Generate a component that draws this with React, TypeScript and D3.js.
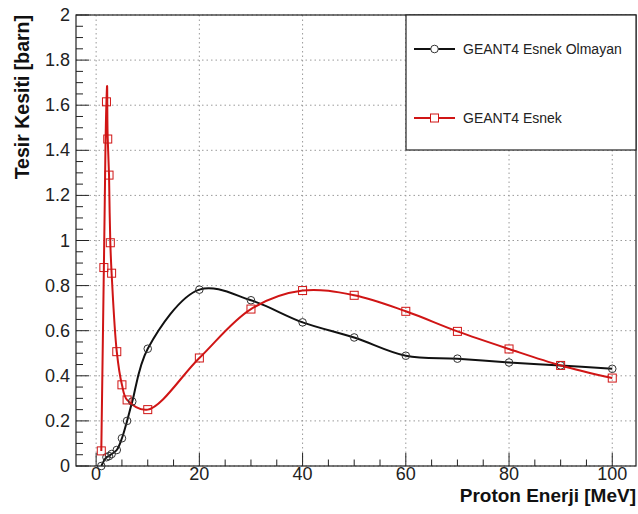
import React from "react";
import * as d3 from "d3";

const energyBlack = [1, 2, 2.5, 3, 4, 5, 6, 7, 10, 20, 30, 40, 50, 60, 70, 80, 90, 100];
const sigmaBlack = [0, 0.039, 0.044, 0.053, 0.071, 0.123, 0.2, 0.286, 0.52, 0.782, 0.735, 0.637, 0.57, 0.489, 0.476, 0.459, 0.446, 0.431];

const energyRed = [1, 1.5, 2, 2.25, 2.5, 2.75, 3, 4, 5, 6, 10, 20, 30, 40, 50, 60, 70, 80, 90, 100];
const sigmaRed = [0.067, 0.88, 1.615, 1.45, 1.29, 0.99, 0.855, 0.507, 0.36, 0.293, 0.25, 0.479, 0.696, 0.778, 0.757, 0.686, 0.597, 0.519, 0.446, 0.39];

const xTicks = [0, 20, 40, 60, 80, 100];
const yTicks = [0, 0.2, 0.4, 0.6, 0.8, 1, 1.2, 1.4, 1.6, 1.8, 2];
const legendLabels = ["GEANT4 Esnek Olmayan", "GEANT4 Esnek"];
const xTitle = "Proton Enerji [MeV]";
const yTitle = "Tesir Kesiti [barn]";

const W = 638;
const H = 514;
const L = 76, R = 636, T = 15, B = 466;
const RED = "#d01515";
const BLACK = "#111";
const FONT = "'Liberation Sans', Arial, Helvetica, sans-serif";

export default function App() {
  const x = d3.scaleLinear().domain([-3.9, 104.6]).range([L, R]);
  const y = d3.scaleLinear().domain([0, 2]).range([B, T]);

  const lineSmooth = d3
    .line<[number, number]>()
    .x((d) => x(d[0]))
    .y((d) => y(d[1]))
    .curve(d3.curveCatmullRom.alpha(0.5));
  const lineSpike = d3
    .line<[number, number]>()
    .x((d) => x(d[0]))
    .y((d) => y(d[1]))
    .curve(d3.curveCardinal.tension(-1));

  const blackPts: [number, number][] = energyBlack.map((e, i) => [e, sigmaBlack[i]]);
  const redPts: [number, number][] = energyRed.map((e, i) => [e, sigmaRed[i]]);
  const SPLIT = 4;
  const redHead = redPts.slice(0, SPLIT + 1);
  const redTail = redPts.slice(SPLIT);

  const xMinor = d3.range(0, 105, 5).filter((v) => x(v) >= L && x(v) <= R);
  const yMinor = d3.range(0, 2.0001, 0.05);

  const gridColor = "#9a9a9a";

  return (
    <svg
      width={W}
      height={H}
      style={{ position: "absolute", left: 0, top: 0, background: "#fff" }}
      fontFamily={FONT}
    >
      <rect x={0} y={0} width={W} height={H} fill="#fff" />
      {/* grid */}
      {xTicks.map((t) => (
        <line key={"gx" + t} x1={x(t)} x2={x(t)} y1={T} y2={B} stroke={gridColor} strokeWidth={1} strokeDasharray="1.5,3" />
      ))}
      {yTicks.map((t) => (
        <line key={"gy" + t} x1={L} x2={R} y1={y(t)} y2={y(t)} stroke={gridColor} strokeWidth={1} strokeDasharray="1.5,3" />
      ))}

      {/* curves */}
      <path d={lineSmooth(blackPts) || ""} fill="none" stroke={BLACK} strokeWidth={2} />
      <path d={lineSpike(redHead) || ""} fill="none" stroke={RED} strokeWidth={2} strokeLinejoin="round" />
      <path d={lineSmooth(redTail) || ""} fill="none" stroke={RED} strokeWidth={2} />

      {/* markers */}
      {blackPts.map((p, i) => (
        <circle key={"bc" + i} cx={x(p[0])} cy={y(p[1])} r={3.8} fill="none" stroke="#333" strokeWidth={1} />
      ))}
      {redPts.map((p, i) => (
        <rect key={"rs" + i} x={x(p[0]) - 4} y={y(p[1]) - 4} width={8} height={8} fill="none" stroke={RED} strokeWidth={1} />
      ))}

      {/* frame */}
      <rect x={L} y={T} width={R - L} height={B - T} fill="none" stroke="#222" strokeWidth={1.2} />

      {/* x ticks */}
      {xMinor.map((t) => (
        <line key={"xt" + t} x1={x(t)} x2={x(t)} y1={B} y2={B - (t % 20 === 0 ? 13 : 6.5)} stroke="#222" strokeWidth={1} />
      ))}
      {xTicks.map((t) => (
        <text key={"xl" + t} x={x(t)} y={480} fontSize={18} textAnchor="middle" fill="#222">
          {t}
        </text>
      ))}
      {/* y ticks */}
      {yMinor.map((t, i) => (
        <line key={"yt" + i} x1={L} x2={L + (i % 4 === 0 ? 13 : 7)} y1={y(t)} y2={y(t)} stroke="#222" strokeWidth={1} />
      ))}
      {yTicks.map((t) => (
        <text key={"yl" + t} x={70} y={y(t)} fontSize={18} textAnchor="end" dominantBaseline="central" fill="#222">
          {t}
        </text>
      ))}

      {/* titles */}
      <text x={R} y={502} fontSize={19} fontWeight="bold" textAnchor="end" fill="#111">
        {xTitle}
      </text>
      <text
        transform={`translate(29,${T}) rotate(-90)`}
        fontSize={19.5}
        fontWeight="bold"
        textAnchor="end"
        fill="#111"
      >
        {yTitle}
      </text>

      {/* legend */}
      <rect x={406} y={T} width={R - 406} height={150 - T} fill="#fff" stroke="#222" strokeWidth={1.2} />
      <line x1={414} x2={455} y1={49} y2={49} stroke={BLACK} strokeWidth={2} />
      <circle cx={434.5} cy={49} r={3.8} fill="#fff" stroke="#333" strokeWidth={1} />
      <text x={463} y={49} fontSize={14} dominantBaseline="central" fill="#222">
        {legendLabels[0]}
      </text>
      <line x1={414} x2={455} y1={118} y2={118} stroke={RED} strokeWidth={2} />
      <rect x={430.5} y={114} width={8} height={8} fill="#fff" stroke={RED} strokeWidth={1} />
      <text x={463} y={118} fontSize={14} dominantBaseline="central" fill="#222">
        {legendLabels[1]}
      </text>
    </svg>
  );
}
